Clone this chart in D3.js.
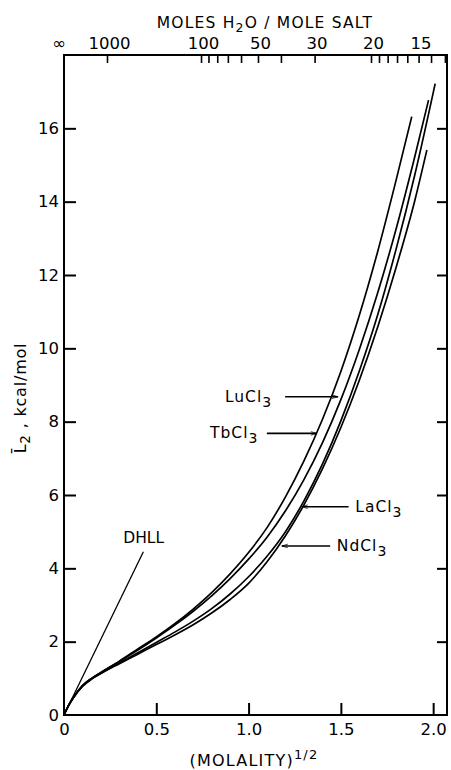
<!DOCTYPE html>
<html><head><meta charset="utf-8">
<script src="https://cdn.jsdelivr.net/npm/d3@7/dist/d3.min.js"></script>
<style>
html,body{margin:0;padding:0;background:#fff;}
svg text{font-family:"DejaVu Sans",sans-serif;fill:#000;}
</style></head>
<body>
<svg id="c" width="451" height="770"></svg>
<script>
// ---- data ----
const luX = [0,0.025,0.05,0.1,0.15,0.2,0.3,0.4,0.5,0.6,0.7,0.8,0.9,1.0,1.1,1.2,1.3,1.4,1.5,1.6,1.7,1.8,1.884];
const luY = [0,0.26,0.47,0.8,1.0,1.16,1.47,1.8,2.13,2.49,2.89,3.34,3.85,4.43,5.11,5.95,6.93,8.06,9.37,10.9,12.65,14.6,16.32];
const tbX = [0,0.025,0.05,0.1,0.15,0.2,0.3,0.4,0.5,0.6,0.7,0.8,0.9,1.0,1.1,1.2,1.3,1.4,1.5,1.6,1.7,1.8,1.9,1.975];
const tbY = [0,0.26,0.47,0.8,1.0,1.16,1.46,1.77,2.1,2.45,2.83,3.25,3.72,4.25,4.85,5.57,6.42,7.42,8.6,9.97,11.52,13.27,15.22,16.77];
const laX = [0,0.025,0.05,0.1,0.15,0.2,0.3,0.4,0.5,0.6,0.7,0.8,0.9,1.0,1.1,1.2,1.3,1.4,1.5,1.6,1.7,1.8,1.9,2.011];
const laY = [0,0.26,0.47,0.79,0.99,1.14,1.42,1.7,1.98,2.26,2.56,2.9,3.3,3.77,4.33,5.0,5.84,6.84,8.02,9.38,10.92,12.72,14.72,17.22];
const ndX = [0,0.025,0.05,0.1,0.15,0.2,0.3,0.4,0.5,0.6,0.7,0.8,0.9,1.0,1.1,1.2,1.3,1.4,1.5,1.6,1.7,1.8,1.9,1.966];
const ndY = [0,0.26,0.46,0.78,0.98,1.13,1.4,1.66,1.92,2.18,2.46,2.78,3.15,3.59,4.18,4.89,5.73,6.71,7.84,9.13,10.59,12.22,14.02,15.41];
const dhllX = [0, 0.43];
const dhllY = [0, 4.45];
const xTicks = [0, 0.5, 1.0, 1.5, 2.0];
const xTickLabels = ["0","0.5","1.0","1.5","2.0"];
const yTicks = [0,2,4,6,8,10,12,14,16];
const topTickMoles = [1000,100,90,80,70,60,50,40,30,20,19,18,17,16,15,14,13];
const topLabelMoles = [Infinity,1000,100,50,30,20,15];
const topLabelText = ["\u221E","1000","100","50","30","20","15"];
const labelNames = ["LuCl","TbCl","LaCl","NdCl"];
const labelTextX = [0.872, 0.791, 1.578, 1.478];
const labelTextY = [8.54, 7.55, 5.54, 4.47];
const arrowFromX = [1.198, 1.099, 1.542, 1.442];
const arrowToX = [1.485, 1.370, 1.288, 1.180];
const arrowY = [8.68, 7.68, 5.68, 4.61];

// ---- chart ----
const svg = d3.select("#c");
const x = d3.scaleLinear().domain([0, 2.075]).range([64, 447]);
const y = d3.scaleLinear().domain([0, 18]).range([715, 55]);
const WATER = 55.51;
const xFromMoles = n => x(isFinite(n) ? Math.sqrt(WATER / n) : 0);

// frame
svg.append("rect").attr("x", x(0)).attr("y", y(18))
  .attr("width", x(2.075) - x(0)).attr("height", y(0) - y(18))
  .attr("fill", "none").attr("stroke", "#000").attr("stroke-width", 2);

// left axis
const gL = svg.append("g").attr("transform", `translate(${x(0)},0)`)
  .call(d3.axisLeft(y).tickValues(yTicks).tickSizeInner(-12).tickSizeOuter(0).tickPadding(5).tickFormat(d3.format("d")));
// right axis (ticks only)
const gR = svg.append("g").attr("transform", `translate(${x(2.075)},0)`)
  .call(d3.axisRight(y).tickValues(yTicks.slice(1)).tickSizeInner(-10).tickSizeOuter(0).tickFormat(""));
// bottom axis
const gB = svg.append("g").attr("transform", `translate(0,${y(0)})`)
  .call(d3.axisBottom(x).tickValues(xTicks).tickSizeInner(-12).tickSizeOuter(0).tickPadding(8).tickFormat((d,i)=>xTickLabels[i]));
[gL, gR, gB].forEach(g => {
  g.select(".domain").remove();
  g.selectAll(".tick line").attr("stroke", "#000").attr("stroke-width", 2);
  g.selectAll(".tick text").style("font-family", "DejaVu Sans").style("font-size", "16.5px").attr("fill", "#000");
});
gB.selectAll(".tick line").filter(d => d === 0).remove();
gL.selectAll(".tick line").filter(d => d === 0).remove();

// top axis (moles H2O / mole salt)
svg.append("g").selectAll("line").data(topTickMoles).join("line")
  .attr("x1", d => xFromMoles(d)).attr("x2", d => xFromMoles(d))
  .attr("y1", y(18)).attr("y2", y(18) + 8)
  .attr("stroke", "#000").attr("stroke-width", 1.6);
svg.append("g").selectAll("text").data(topLabelMoles).join("text")
  .attr("x", (d, i) => xFromMoles(d) + (i === 0 ? -5 : 2))
  .attr("y", 49).attr("text-anchor", "middle")
  .style("font-size", "16.5px")
  .text((d, i) => topLabelText[i]);

// top title
const tt = svg.append("text").attr("x", 265).attr("y", 28).attr("text-anchor", "middle")
  .style("font-size", "15.5px").style("letter-spacing", "1.2px");
tt.append("tspan").text("MOLES H");
tt.append("tspan").attr("dy", 4).style("font-size", "12.5px").text("2");
tt.append("tspan").attr("dy", -4).text("O / MOLE SALT");

// bottom title
const bt = svg.append("text").attr("x", 254).attr("y", 766).attr("text-anchor", "middle")
  .style("font-size", "16px").style("letter-spacing", "1.2px");
bt.append("tspan").text("(MOLALITY)");
bt.append("tspan").attr("dy", -7).style("font-size", "13px").text("1/2");

// y title
const yt = svg.append("text").attr("transform", "translate(26,398) rotate(-90)")
  .attr("text-anchor", "middle").style("font-size", "16px").style("letter-spacing", "0.8px");
yt.append("tspan").text("L\u0304");
yt.append("tspan").attr("dy", 4).style("font-size", "13.5px").text("2");
yt.append("tspan").attr("dy", -4).text(" ,  kcal/mol");

// curves
const line = d3.line().x(d => x(d[0])).y(d => y(d[1])).curve(d3.curveMonotoneX);
const series = [[luX, luY], [tbX, tbY], [laX, laY], [ndX, ndY]];
svg.append("g").selectAll("path").data(series).join("path")
  .attr("d", s => line(d3.zip(s[0], s[1])))
  .attr("fill", "none").attr("stroke", "#000").attr("stroke-width", 1.7);

// DHLL line
svg.append("path").attr("d", d3.line().x(d => x(d[0])).y(d => y(d[1]))(d3.zip(dhllX, dhllY)))
  .attr("fill", "none").attr("stroke", "#000").attr("stroke-width", 1.3);
svg.append("text").attr("x", x(0.321)).attr("y", y(4.69)).style("font-size", "15.5px").text("DHLL");

// labels and arrows
svg.append("defs").append("marker").attr("id", "ah").attr("viewBox", "0 0 10 10")
  .attr("refX", 10).attr("refY", 5).attr("markerWidth", 9).attr("markerHeight", 6)
  .attr("orient", "auto").attr("markerUnits", "userSpaceOnUse")
  .append("path").attr("d", "M0,2 L10,5 L0,8").attr("fill", "none").attr("stroke", "#000").attr("stroke-width", 1.2);
labelNames.forEach((nm, i) => {
  const t = svg.append("text").attr("x", x(labelTextX[i])).attr("y", y(labelTextY[i]))
    .style("font-size", "15.5px").style("letter-spacing", "1px");
  t.append("tspan").text(nm);
  t.append("tspan").attr("dy", 5).style("font-size", "14px").text("3");
  svg.append("line").attr("x1", x(arrowFromX[i])).attr("x2", x(arrowToX[i]))
    .attr("y1", y(arrowY[i])).attr("y2", y(arrowY[i]))
    .attr("stroke", "#000").attr("stroke-width", 1.6).attr("marker-end", "url(#ah)");
});
</script>
</body></html>
